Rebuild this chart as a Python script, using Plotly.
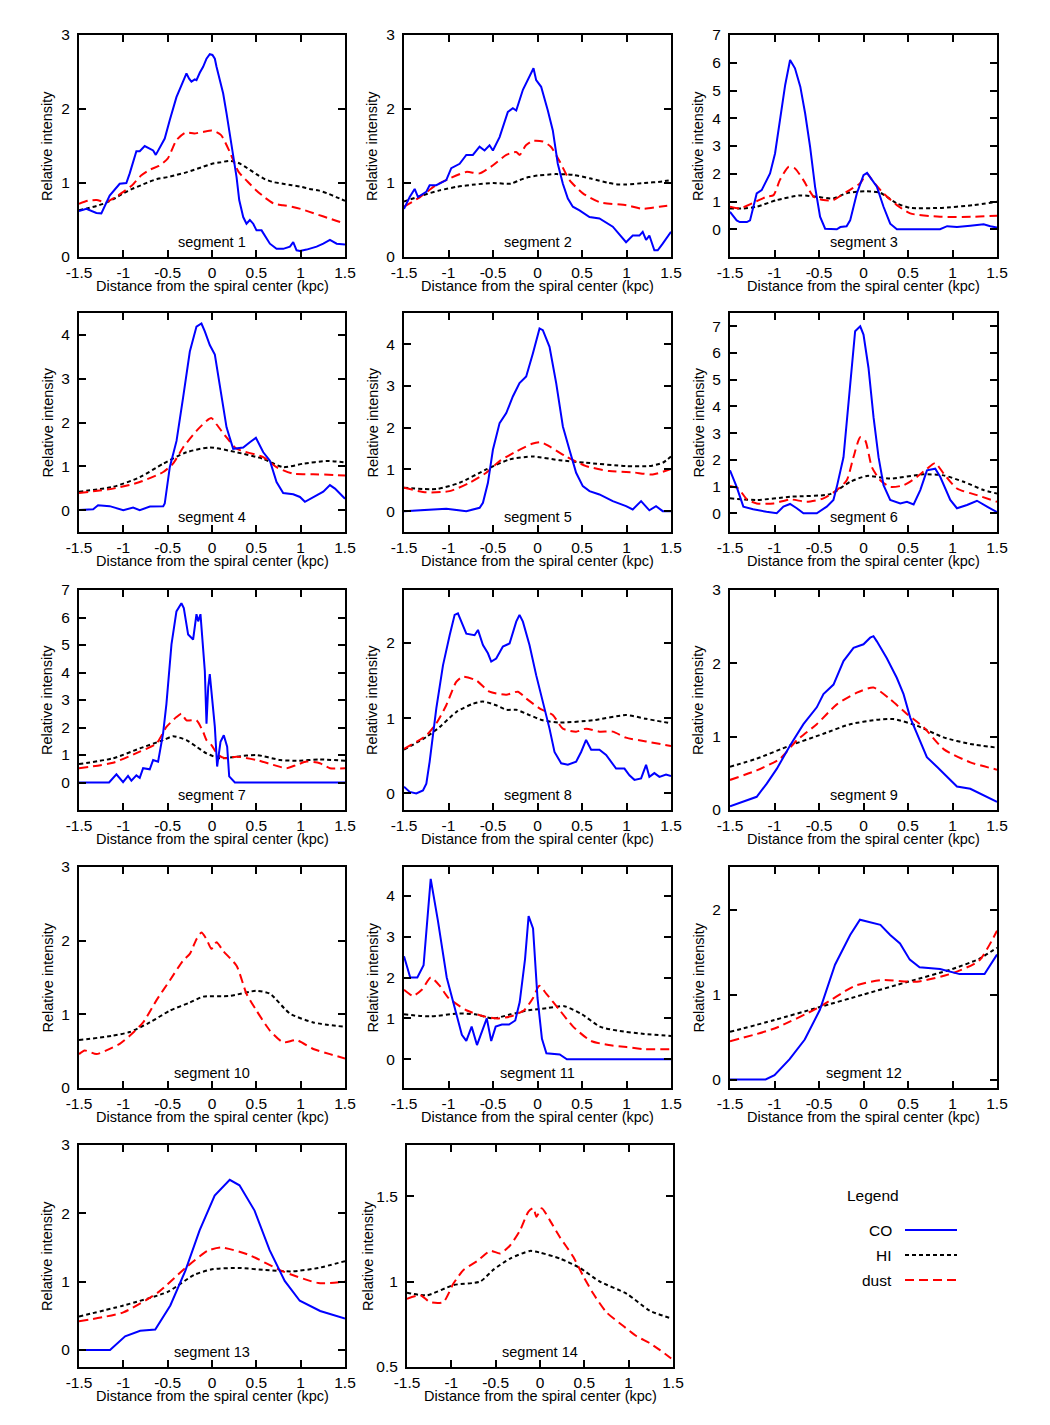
import plotly.graph_objects as go

# ---------------- data ----------------
X_TICKS = [-1.5, -1, -0.5, 0, 0.5, 1, 1.5]
X_TICK_TEXT = ["-1.5", "-1", "-0.5", "0", "0.5", "1", "1.5"]
SEGMENT_NAMES = ["segment %d" % i for i in range(1, 15)]
Y_RANGES = [[0, 3], [0, 3], [-1, 7], [-0.5, 4.5], [-0.5, 4.75], [-0.7, 7.5], [-1, 7],
            [-0.22, 2.7], [0, 3], [0, 3], [-0.7, 4.7], [-0.1, 2.5], [-0.25, 3], [0.5, 1.8]]
Y_TICKS = [[0, 1, 2, 3], [0, 1, 2, 3], [0, 1, 2, 3, 4, 5, 6, 7], [0, 1, 2, 3, 4], [0, 1, 2, 3, 4],
           [0, 1, 2, 3, 4, 5, 6, 7], [0, 1, 2, 3, 4, 5, 6, 7], [0, 1, 2], [0, 1, 2, 3], [0, 1, 2, 3],
           [0, 1, 2, 3, 4], [0, 1, 2], [0, 1, 2, 3], [0.5, 1, 1.5]]

S1_CO = [(-1.5,0.62),(-1.417,0.65),(-1.304,0.595),(-1.248,0.59),(-1.154,0.83),(-1.041,0.99),(-0.966,1.0),(-0.928,1.13),(-0.853,1.43),(-0.815,1.43),(-0.759,1.5),(-0.702,1.47),(-0.664,1.44),(-0.634,1.38),(-0.57,1.51),(-0.533,1.6),(-0.476,1.85),(-0.401,2.16),(-0.345,2.32),(-0.288,2.48),(-0.258,2.41),(-0.232,2.37),(-0.194,2.4),(-0.175,2.39),(-0.138,2.49),(-0.1,2.57),(-0.062,2.68),(-0.025,2.74),(0.005,2.73),(0.032,2.68),(0.051,2.57),(0.088,2.37),(0.126,2.21),(0.164,1.94),(0.201,1.67),(0.239,1.4),(0.277,1.08),(0.307,0.77),(0.352,0.54),(0.389,0.45),(0.427,0.5),(0.465,0.45),(0.502,0.36),(0.559,0.36),(0.596,0.29),(0.653,0.18),(0.728,0.11),(0.803,0.11),(0.879,0.14),(0.916,0.2),(0.954,0.09),(0.992,0.08),(1.067,0.1),(1.18,0.14),(1.255,0.18),(1.33,0.23),(1.406,0.18),(1.5,0.17)]
S1_HI = [(-1.5,0.63),(-1.4,0.66),(-1.3,0.69),(-1.2,0.73),(-1.1,0.79),(-1.0,0.86),(-0.9,0.92),(-0.8,0.97),(-0.7,1.02),(-0.6,1.06),(-0.5,1.08),(-0.4,1.11),(-0.3,1.14),(-0.2,1.18),(-0.1,1.22),(0.0,1.26),(0.1,1.28),(0.2,1.3),(0.3,1.27),(0.4,1.2),(0.5,1.12),(0.6,1.05),(0.7,1.01),(0.8,0.99),(0.9,0.97),(1.0,0.95),(1.1,0.92),(1.2,0.9),(1.3,0.86),(1.4,0.81),(1.5,0.76)]
S1_DUST = [(-1.5,0.72),(-1.4,0.76),(-1.3,0.77),(-1.2,0.74),(-1.1,0.8),(-1.0,0.88),(-0.9,0.97),(-0.8,1.1),(-0.7,1.18),(-0.6,1.23),(-0.5,1.33),(-0.4,1.58),(-0.3,1.68),(-0.2,1.67),(-0.1,1.69),(0.0,1.71),(0.1,1.65),(0.2,1.42),(0.3,1.15),(0.4,1.02),(0.5,0.9),(0.6,0.8),(0.7,0.72),(0.8,0.7),(0.9,0.68),(1.0,0.65),(1.1,0.61),(1.2,0.57),(1.3,0.53),(1.4,0.49),(1.5,0.45)]

S2_CO = [(-1.5,0.65),(-1.436,0.81),(-1.38,0.92),(-1.343,0.81),(-1.25,0.88),(-1.212,0.97),(-1.137,0.97),(-1.025,1.04),(-0.969,1.2),(-0.875,1.26),(-0.8,1.38),(-0.726,1.38),(-0.651,1.49),(-0.595,1.44),(-0.539,1.51),(-0.501,1.44),(-0.426,1.62),(-0.333,1.96),(-0.277,2.01),(-0.239,1.98),(-0.164,2.26),(-0.09,2.44),(-0.045,2.55),(-0.015,2.39),(0.041,2.3),(0.116,1.98),(0.172,1.71),(0.228,1.26),(0.285,0.99),(0.341,0.79),(0.397,0.68),(0.472,0.63),(0.584,0.54),(0.696,0.52),(0.846,0.41),(0.995,0.2),(1.07,0.29),(1.145,0.29),(1.182,0.34),(1.22,0.23),(1.257,0.29),(1.313,0.09),(1.351,0.09),(1.407,0.18),(1.5,0.34)]
S2_HI = [(-1.5,0.75),(-1.3,0.83),(-1.1,0.9),(-0.9,0.95),(-0.7,0.98),(-0.5,1.0),(-0.3,0.99),(-0.2,1.04),(-0.1,1.08),(0.0,1.1),(0.2,1.12),(0.4,1.11),(0.6,1.06),(0.8,1.0),(0.9,0.98),(1.0,0.98),(1.2,1.0),(1.4,1.02),(1.5,1.04)]
S2_DUST = [(-1.5,0.68),(-1.32,0.81),(-1.14,0.97),(-0.99,1.06),(-0.8,1.15),(-0.65,1.13),(-0.5,1.24),(-0.35,1.38),(-0.24,1.42),(-0.2,1.38),(-0.13,1.51),(-0.05,1.57),(0.06,1.56),(0.15,1.49),(0.25,1.29),(0.36,1.04),(0.51,0.86),(0.7,0.74),(1.0,0.7),(1.18,0.65),(1.37,0.68),(1.5,0.7)]

S3_CO = [(-1.5,0.63),(-1.425,0.32),(-1.39,0.26),(-1.31,0.26),(-1.275,0.32),(-1.2,1.29),(-1.144,1.41),(-1.106,1.65),(-1.05,2.01),(-0.994,2.73),(-0.94,3.93),(-0.88,5.2),(-0.825,6.1),(-0.806,5.98),(-0.77,5.8),(-0.71,5.14),(-0.656,4.18),(-0.6,2.97),(-0.544,1.53),(-0.488,0.45),(-0.431,0.02),(-0.3,0.0),(-0.26,0.08),(-0.19,0.11),(-0.15,0.32),(-0.075,1.29),(0.0,1.95),(0.04,2.03),(0.1,1.77),(0.15,1.53),(0.225,0.81),(0.3,0.2),(0.375,0.0),(0.86,0.0),(0.94,0.11),(1.05,0.08),(1.2,0.13),(1.35,0.18),(1.425,0.11),(1.5,0.06)]
S3_HI = [(-1.5,0.75),(-1.35,0.75),(-1.2,0.81),(-0.975,1.05),(-0.71,1.22),(-0.525,1.17),(-0.34,1.11),(-0.19,1.3),(0.04,1.37),(0.19,1.31),(0.375,0.93),(0.525,0.77),(0.86,0.77),(1.24,0.87),(1.5,0.99)]
S3_DUST = [(-1.5,0.81),(-1.39,0.75),(-1.24,0.95),(-1.09,1.17),(-1.01,1.23),(-0.94,1.77),(-0.84,2.25),(-0.77,2.19),(-0.675,1.77),(-0.56,1.17),(-0.45,1.05),(-0.34,1.05),(-0.19,1.35),(-0.04,1.65),(0.04,2.0),(0.11,1.71),(0.225,1.29),(0.375,0.87),(0.525,0.57),(0.86,0.45),(1.24,0.45),(1.5,0.49)]

S4_CO = [(-1.5,0.0),(-1.34,0.02),(-1.285,0.11),(-1.154,0.09),(-1.0,0.0),(-0.89,0.06),(-0.815,0.0),(-0.7,0.08),(-0.55,0.09),(-0.533,0.15),(-0.476,0.98),(-0.4,1.58),(-0.326,2.57),(-0.25,3.62),(-0.175,4.19),(-0.119,4.26),(-0.081,4.08),(-0.025,3.77),(0.032,3.55),(0.088,2.87),(0.164,1.89),(0.239,1.4),(0.352,1.43),(0.427,1.55),(0.495,1.65),(0.578,1.32),(0.653,1.13),(0.728,0.64),(0.803,0.39),(0.916,0.36),(0.992,0.3),(1.048,0.19),(1.142,0.3),(1.255,0.42),(1.33,0.57),(1.387,0.49),(1.5,0.26)]
S4_HI = [(-1.5,0.42),(-1.116,0.53),(-0.815,0.75),(-0.55,1.06),(-0.288,1.32),(-0.025,1.43),(0.277,1.32),(0.578,1.17),(0.803,0.98),(1.03,1.06),(1.29,1.12),(1.5,1.09)]
S4_DUST = [(-1.5,0.39),(-1.116,0.49),(-0.815,0.64),(-0.55,0.87),(-0.44,1.06),(-0.326,1.43),(-0.175,1.81),(-0.06,2.04),(-0.006,2.1),(0.05,1.96),(0.164,1.66),(0.277,1.4),(0.578,1.21),(0.728,0.98),(0.916,0.83),(1.142,0.82),(1.5,0.79)]

S5_CO = [(-1.5,0.0),(-1.175,0.04),(-1.025,0.06),(-0.8,0.0),(-0.65,0.08),(-0.613,0.2),(-0.557,0.68),(-0.501,1.47),(-0.426,2.11),(-0.351,2.35),(-0.277,2.75),(-0.202,3.07),(-0.127,3.23),(-0.052,3.78),(0.023,4.38),(0.06,4.34),(0.135,3.94),(0.21,3.07),(0.285,2.03),(0.359,1.47),(0.434,0.92),(0.509,0.6),(0.584,0.48),(0.696,0.4),(0.846,0.24),(0.995,0.12),(1.07,0.04),(1.164,0.24),(1.257,0.02),(1.332,0.12),(1.407,0.0),(1.5,0.0)]
S5_HI = [(-1.5,0.56),(-1.137,0.53),(-0.875,0.68),(-0.576,1.0),(-0.314,1.24),(-0.052,1.31),(0.247,1.22),(0.546,1.16),(0.995,1.08),(1.257,1.08),(1.407,1.16),(1.5,1.31)]
S5_DUST = [(-1.5,0.56),(-1.25,0.45),(-0.988,0.48),(-0.763,0.68),(-0.576,0.92),(-0.426,1.2),(-0.239,1.43),(-0.052,1.62),(0.041,1.65),(0.135,1.55),(0.322,1.31),(0.546,1.08),(0.808,0.96),(1.07,0.93),(1.295,0.88),(1.5,1.01)]

S6_CO = [(-1.5,1.61),(-1.425,0.99),(-1.35,0.25),(-1.24,0.15),(-1.09,0.06),(-0.975,0.0),(-0.9,0.25),(-0.825,0.35),(-0.75,0.19),(-0.675,0.0),(-0.525,0.0),(-0.413,0.25),(-0.338,0.5),(-0.3,0.99),(-0.225,2.1),(-0.15,4.83),(-0.094,6.82),(-0.037,7.0),(0.0,6.69),(0.056,5.45),(0.113,3.59),(0.169,2.1),(0.225,1.05),(0.3,0.5),(0.413,0.37),(0.488,0.43),(0.563,0.33),(0.638,0.87),(0.713,1.61),(0.806,1.67),(0.863,1.36),(0.975,0.5),(1.05,0.19),(1.163,0.31),(1.275,0.47),(1.388,0.25),(1.5,0.04)]
S6_HI = [(-1.5,0.56),(-1.2,0.5),(-0.825,0.62),(-0.375,0.72),(-0.15,1.18),(0.04,1.4),(0.3,1.3),(0.675,1.46),(0.9,1.42),(1.125,1.18),(1.35,0.87),(1.5,0.74)]
S6_DUST = [(-1.5,1.02),(-1.406,0.93),(-1.31,0.52),(-1.2,0.37),(-1.01,0.37),(-0.825,0.52),(-0.638,0.43),(-0.45,0.56),(-0.3,0.87),(-0.188,1.24),(-0.113,2.1),(-0.037,2.85),(0.019,2.73),(0.094,1.73),(0.188,1.24),(0.3,0.99),(0.45,1.05),(0.6,1.36),(0.713,1.67),(0.806,1.88),(0.9,1.49),(1.05,0.93),(1.275,0.68),(1.5,0.43)]

S7_CO = [(-1.5,0.0),(-1.161,0.0),(-1.078,0.3),(-1.003,0.01),(-0.947,0.24),(-0.909,0.07),(-0.853,0.26),(-0.815,0.17),(-0.777,0.52),(-0.702,0.48),(-0.664,0.82),(-0.608,0.76),(-0.552,1.78),(-0.514,2.86),(-0.457,5.02),(-0.401,6.22),(-0.345,6.52),(-0.318,6.34),(-0.269,5.38),(-0.213,5.2),(-0.175,6.12),(-0.156,5.86),(-0.13,6.12),(-0.081,4.06),(-0.062,2.14),(-0.043,3.46),(-0.025,3.94),(0.005,2.98),(0.032,2.02),(0.058,0.58),(0.096,1.48),(0.133,1.72),(0.171,1.3),(0.194,0.22),(0.258,0.0),(1.5,0.0)]
S7_HI = [(-1.5,0.67),(-1.116,0.88),(-0.815,1.24),(-0.552,1.54),(-0.439,1.68),(-0.288,1.54),(-0.175,1.3),(-0.062,1.06),(0.088,0.88),(0.277,0.94),(0.502,1.0),(0.766,0.82),(0.954,0.79),(1.217,0.84),(1.5,0.79)]
S7_DUST = [(-1.5,0.52),(-1.116,0.72),(-0.815,1.12),(-0.627,1.42),(-0.514,2.02),(-0.401,2.38),(-0.345,2.5),(-0.288,2.26),(-0.175,2.26),(-0.1,1.84),(-0.062,1.54),(-0.006,1.36),(0.069,1.0),(0.145,0.88),(0.277,0.94),(0.502,0.82),(0.69,0.64),(0.841,0.52),(0.954,0.64),(1.067,0.76),(1.217,0.7),(1.33,0.52),(1.5,0.52)]

S8_CO = [(-1.5,0.09),(-1.436,0.02),(-1.362,0.0),(-1.287,0.04),(-1.249,0.13),(-1.212,0.42),(-1.137,1.13),(-1.062,1.7),(-0.987,2.1),(-0.931,2.37),(-0.894,2.39),(-0.838,2.23),(-0.8,2.12),(-0.707,2.1),(-0.669,2.17),(-0.613,1.97),(-0.557,1.86),(-0.52,1.75),(-0.464,1.79),(-0.389,1.95),(-0.314,1.99),(-0.239,2.28),(-0.202,2.37),(-0.164,2.28),(-0.09,1.97),(-0.015,1.57),(0.06,1.22),(0.135,0.86),(0.191,0.55),(0.266,0.4),(0.341,0.38),(0.434,0.42),(0.49,0.55),(0.546,0.71),(0.603,0.58),(0.696,0.58),(0.771,0.51),(0.883,0.33),(0.977,0.33),(1.033,0.24),(1.089,0.18),(1.164,0.2),(1.22,0.38),(1.257,0.22),(1.313,0.27),(1.37,0.22),(1.444,0.25),(1.5,0.23)]
S8_HI = [(-1.5,0.58),(-1.249,0.75),(-1.1,0.88),(-0.913,1.08),(-0.726,1.19),(-0.613,1.22),(-0.464,1.17),(-0.351,1.11),(-0.239,1.11),(-0.09,1.04),(0.06,0.97),(0.247,0.94),(0.621,0.97),(0.995,1.04),(1.22,0.99),(1.5,0.93)]
S8_DUST = [(-1.5,0.59),(-1.249,0.77),(-1.137,0.93),(-1.025,1.17),(-0.913,1.48),(-0.838,1.55),(-0.688,1.5),(-0.539,1.35),(-0.351,1.31),(-0.221,1.35),(-0.127,1.26),(0.023,1.13),(0.172,1.04),(0.285,0.86),(0.434,0.82),(0.546,0.86),(0.696,0.82),(0.846,0.82),(0.995,0.74),(1.22,0.69),(1.5,0.63)]

S9_CO = [(-1.5,0.05),(-1.35,0.11),(-1.2,0.18),(-1.087,0.36),(-0.975,0.56),(-0.825,0.88),(-0.675,1.17),(-0.525,1.4),(-0.45,1.58),(-0.337,1.71),(-0.225,2.03),(-0.112,2.21),(0.0,2.26),(0.075,2.35),(0.112,2.37),(0.15,2.3),(0.262,2.07),(0.375,1.8),(0.45,1.58),(0.525,1.26),(0.637,0.95),(0.712,0.72),(0.825,0.59),(0.975,0.41),(1.05,0.32),(1.2,0.29),(1.35,0.2),(1.5,0.11)]
S9_HI = [(-1.5,0.59),(-1.2,0.7),(-0.825,0.88),(-0.45,1.04),(-0.15,1.17),(0.15,1.23),(0.337,1.24),(0.6,1.15),(0.9,0.99),(1.2,0.9),(1.5,0.85)]
S9_DUST = [(-1.5,0.41),(-1.2,0.54),(-0.937,0.7),(-0.75,0.95),(-0.525,1.17),(-0.3,1.44),(-0.075,1.6),(0.112,1.67),(0.3,1.51),(0.487,1.31),(0.675,1.13),(0.9,0.83),(1.2,0.65),(1.5,0.55)]

S10_HI = [(-1.5,0.65),(-1.116,0.71),(-0.928,0.76),(-0.702,0.89),(-0.476,1.05),(-0.25,1.16),(-0.1,1.24),(0.201,1.25),(0.502,1.32),(0.653,1.28),(0.879,1.01),(1.142,0.89),(1.5,0.83)]
S10_DUST = [(-1.5,0.46),(-1.436,0.51),(-1.304,0.46),(-1.191,0.51),(-1.041,0.6),(-0.928,0.71),(-0.777,0.89),(-0.627,1.19),(-0.476,1.46),(-0.326,1.73),(-0.25,1.82),(-0.175,2.02),(-0.119,2.11),(-0.062,2.02),(-0.006,1.89),(0.051,1.98),(0.126,1.86),(0.277,1.66),(0.389,1.28),(0.502,1.05),(0.653,0.78),(0.803,0.62),(0.954,0.65),(1.142,0.53),(1.33,0.46),(1.5,0.4)]

S11_CO = [(-1.5,2.52),(-1.43,2.0),(-1.35,2.0),(-1.28,2.3),(-1.2,4.41),(-1.12,3.4),(-1.02,2.0),(-0.92,1.2),(-0.85,0.6),(-0.8,0.45),(-0.74,0.8),(-0.68,0.35),(-0.62,0.7),(-0.57,1.0),(-0.52,0.45),(-0.47,0.8),(-0.4,0.85),(-0.32,0.85),(-0.25,0.95),(-0.2,1.4),(-0.14,2.45),(-0.1,3.5),(-0.05,3.2),(0.0,1.5),(0.05,0.5),(0.1,0.15),(0.25,0.12),(0.33,0.0),(1.5,0.0)]
S11_HI = [(-1.5,1.1),(-1.2,1.05),(-0.9,1.12),(-0.7,1.1),(-0.5,1.0),(-0.3,1.1),(-0.1,1.2),(0.1,1.25),(0.3,1.3),(0.5,1.1),(0.7,0.8),(0.9,0.7),(1.2,0.62),(1.5,0.57)]
S11_DUST = [(-1.5,1.7),(-1.4,1.55),(-1.3,1.7),(-1.2,2.0),(-1.1,1.8),(-1.0,1.5),(-0.8,1.2),(-0.6,1.05),(-0.45,1.0),(-0.3,1.05),(-0.15,1.2),(-0.05,1.5),(0.02,1.8),(0.1,1.6),(0.25,1.2),(0.4,0.8),(0.6,0.45),(0.8,0.35),(1.0,0.3),(1.2,0.25),(1.5,0.25)]

S12_CO = [(-1.5,0.0),(-1.1,0.0),(-1.0,0.05),(-0.83,0.24),(-0.66,0.47),(-0.49,0.82),(-0.32,1.35),(-0.15,1.7),(-0.04,1.88),(0.19,1.82),(0.3,1.7),(0.41,1.6),(0.52,1.41),(0.63,1.32),(0.86,1.3),(1.08,1.24),(1.36,1.24),(1.5,1.47)]
S12_HI = [(-1.5,0.56),(-1.0,0.7),(-0.5,0.85),(0.0,1.0),(0.5,1.15),(1.0,1.3),(1.3,1.42),(1.5,1.55)]
S12_DUST = [(-1.5,0.45),(-1.0,0.6),(-0.5,0.85),(-0.1,1.1),(0.2,1.17),(0.6,1.15),(1.0,1.25),(1.3,1.4),(1.5,1.75)]

S13_CO = [(-1.5,0.0),(-1.15,0.0),(-0.98,0.2),(-0.81,0.28),(-0.64,0.3),(-0.47,0.65),(-0.3,1.16),(-0.14,1.75),(0.03,2.26),(0.2,2.49),(0.31,2.41),(0.48,2.04),(0.65,1.46),(0.82,1.01),(0.99,0.72),(1.22,0.57),(1.5,0.46)]
S13_HI = [(-1.5,0.49),(-1.0,0.65),(-0.5,0.85),(-0.2,1.1),(0.0,1.18),(0.3,1.2),(0.6,1.17),(0.9,1.15),(1.2,1.2),(1.5,1.3)]
S13_DUST = [(-1.5,0.42),(-1.0,0.55),(-0.6,0.85),(-0.3,1.2),(-0.05,1.45),(0.1,1.5),(0.4,1.4),(0.8,1.15),(1.2,0.98),(1.5,1.0)]

S14_HI = [(-1.5,0.935),(-1.275,0.92),(-0.975,0.98),(-0.675,1.0),(-0.525,1.07),(-0.337,1.135),(-0.112,1.18),(0.0,1.17),(0.225,1.135),(0.45,1.08),(0.675,1.0),(0.975,0.93),(1.237,0.83),(1.48,0.785)]
S14_DUST = [(-1.5,0.9),(-1.35,0.92),(-1.24,0.88),(-1.09,0.88),(-0.975,0.99),(-0.86,1.07),(-0.71,1.12),(-0.56,1.18),(-0.45,1.165),(-0.34,1.21),(-0.225,1.3),(-0.13,1.41),(-0.075,1.43),(-0.04,1.38),(0.02,1.43),(0.11,1.36),(0.225,1.26),(0.375,1.145),(0.49,1.03),(0.6,0.93),(0.75,0.82),(0.94,0.74),(1.09,0.68),(1.237,0.64),(1.35,0.6),(1.48,0.55)]

CO_SERIES = [S1_CO, S2_CO, S3_CO, S4_CO, S5_CO, S6_CO, S7_CO, S8_CO, S9_CO, None, S11_CO, S12_CO, S13_CO, None]
HI_SERIES = [S1_HI, S2_HI, S3_HI, S4_HI, S5_HI, S6_HI, S7_HI, S8_HI, S9_HI, S10_HI, S11_HI, S12_HI, S13_HI, S14_HI]
DUST_SERIES = [S1_DUST, S2_DUST, S3_DUST, S4_DUST, S5_DUST, S6_DUST, S7_DUST, S8_DUST, S9_DUST, S10_DUST, S11_DUST, S12_DUST, S13_DUST, S14_DUST]

LEGEND_NAMES = ["CO", "HI", "dust"]

# ---------------- styles / layout ----------------
W, H = 1050, 1425
FONT = "Liberation Sans, Arial, Helvetica, sans-serif"
FS = 14.5
TFS = 15.5
STYLE = {
    "CO": dict(color="#0000ff", width=2, dash="solid"),
    "HI": dict(color="#000000", width=2, dash="4px,3px"),
    "dust": dict(color="#ff0000", width=2, dash="9px,5px"),
}
COL_PX = [(79, 345), (404, 671), (730, 997)]
ROW_PX = [(35, 257), (313, 532), (590, 810), (867, 1088), (1145, 1367)]

fig = go.Figure()
layout = dict(width=W, height=H, margin=dict(l=0, r=0, t=0, b=0, autoexpand=False),
              paper_bgcolor="white", plot_bgcolor="white", showlegend=False,
              font=dict(family=FONT, size=FS, color="black"))
annotations = []
shapes = []

def add_series(pts, name, idx, smooth):
    if pts is None:
        return
    xs = [p[0] for p in pts]
    ys = [p[1] for p in pts]
    st = STYLE[name]
    line = dict(color=st["color"], width=st["width"], dash=st["dash"])
    if smooth:
        line.update(shape="spline", smoothing=0.6)
    fig.add_trace(go.Scatter(x=xs, y=ys, mode="lines", line=line, name=name,
                             xaxis="x%d" % idx, yaxis="y%d" % idx, showlegend=False,
                             cliponaxis=True))

for k in range(14):
    idx = k + 1
    r, c = divmod(k, 3)
    x0, x1 = COL_PX[c]
    y0, y1 = ROW_PX[r]
    if k == 13:
        x0, x1 = 407, 673
    dom_x = [x0 / W, x1 / W]
    dom_y = [1 - y1 / H, 1 - y0 / H]
    common = dict(showline=True, linecolor="black", linewidth=2, mirror="allticks",
                  ticks="inside", ticklen=7, tickwidth=1.5, tickcolor="black", automargin=False,
                  showgrid=False, zeroline=False, tickfont=dict(family=FONT, size=TFS, color="black"))
    layout["xaxis%d" % idx] = dict(common, domain=dom_x, anchor="y%d" % idx, range=[-1.5, 1.5],
                                   tickvals=X_TICKS, ticktext=X_TICK_TEXT)
    layout["yaxis%d" % idx] = dict(common, domain=dom_y, anchor="x%d" % idx, range=Y_RANGES[k],
                                   tickvals=Y_TICKS[k], ticktext=[("%g" % v) for v in Y_TICKS[k]],
                                   ticklabelstandoff=4)
    add_series(HI_SERIES[k], "HI", idx, True)
    add_series(DUST_SERIES[k], "dust", idx, True)
    add_series(CO_SERIES[k], "CO", idx, False)
    cx = (x0 + x1) / 2 / W
    ytitle_x = (x0 - 32) / W if k != 13 else (x0 - 39) / W
    annotations.append(dict(text=SEGMENT_NAMES[k], x=cx, y=1 - (y1 - 15) / H, xref="paper", yref="paper",
                            showarrow=False, xanchor="center", yanchor="middle", font=dict(size=FS)))
    annotations.append(dict(text="Distance from the spiral center (kpc)", x=cx, y=1 - (y1 + 29) / H,
                            xref="paper", yref="paper", showarrow=False, xanchor="center",
                            yanchor="middle", font=dict(size=FS)))
    annotations.append(dict(text="Relative intensity", x=ytitle_x, y=1 - (y0 + y1) / 2 / H,
                            xref="paper", yref="paper", showarrow=False, textangle=-90,
                            xanchor="center", yanchor="middle", font=dict(size=FS)))

# legend box (text left, sample line right)
annotations.append(dict(text="Legend", x=873 / W, y=1 - 1195 / H, xref="paper", yref="paper",
                        showarrow=False, xanchor="center", yanchor="middle", font=dict(size=FS + 1)))
for i, name in enumerate(LEGEND_NAMES):
    yy = 1230 + 25 * i
    annotations.append(dict(text=name, x=894 / W, y=1 - yy / H, xref="paper", yref="paper",
                            showarrow=False, xanchor="right", yanchor="middle", font=dict(size=FS + 1)))
    st = STYLE[name]
    shapes.append(dict(type="line", xref="paper", yref="paper", x0=905 / W, x1=957 / W,
                       y0=1 - yy / H, y1=1 - yy / H,
                       line=dict(color=st["color"], width=st["width"], dash=st["dash"])))

layout["annotations"] = annotations
layout["shapes"] = shapes
fig.update_layout(**layout)
fig.write_html("out.html")
